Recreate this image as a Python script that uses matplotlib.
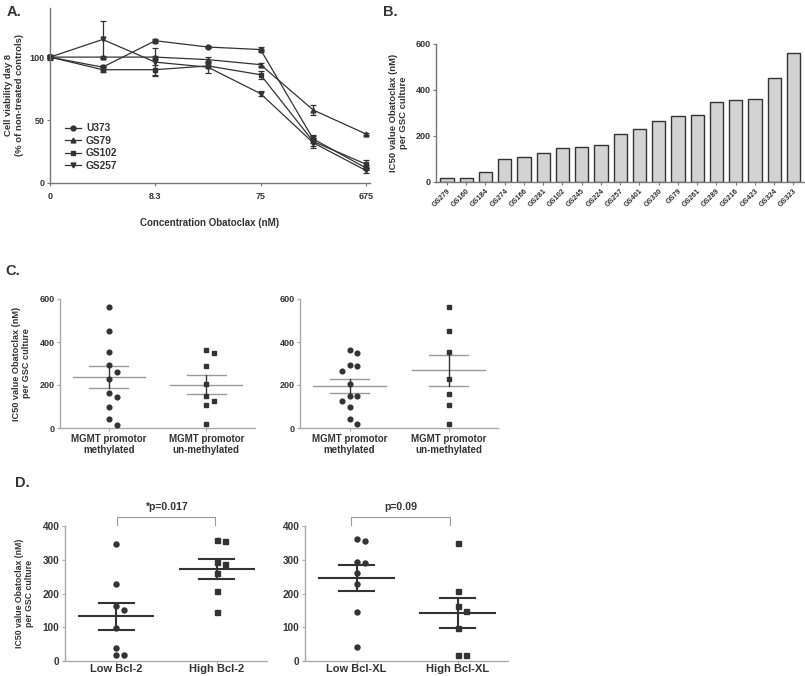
import matplotlib.pyplot as plt
import numpy as np

plt.rcParams['font.family'] = ['Liberation Sans', 'DejaVu Sans']
plt.rcParams['font.weight'] = 'bold'
plt.rcParams['axes.labelweight'] = 'bold'
plt.rcParams['text.color'] = '#333333'
plt.rcParams['axes.labelcolor'] = '#333333'
plt.rcParams['xtick.color'] = '#333333'
plt.rcParams['ytick.color'] = '#333333'

# ---- A: viability curves ----
conc_labels = ['0', '8.3', '75', '675']          # labelled ticks (every second dose)
n_doses = 7
lines_names = ['U373', 'GS79', 'GS102', 'GS257']
lines_markers = ['o', '^', 's', 'v']
u373 = [100, 92, 113, 108, 106, 35, 12]
u373_err = [1, 2, 1.5, 1, 2, 3, 2]
gs79 = [100, 100, 100, 98, 94, 58, 39]
gs79_err = [1, 1, 1, 2, 1, 4, 1]
gs102 = [100, 90, 90, 93, 86, 33, 15]
gs102_err = [2, 2, 4, 2, 3, 4, 3]
gs257 = [100, 114, 96, 92, 71, 32, 10]
gs257_err = [1, 15, 11, 5, 2, 4, 2]

# ---- B: IC50 per culture ----
cultures = ['GS279', 'GS160', 'GS184', 'GS274', 'GS166', 'GS281', 'GS102', 'GS245',
            'GS224', 'GS257', 'GS401', 'GS330', 'GS79', 'GS261', 'GS289', 'GS216',
            'GS423', 'GS324', 'GS323']
ic50 = [17, 17, 42, 98, 110, 127, 146, 152, 163, 208, 231, 264, 289, 293, 348,
        358, 361, 453, 563]

# ---- C: MGMT promotor status ----
mgmt_labels = ['MGMT promotor\nmethylated', 'MGMT promotor\nun-methylated']
c1_meth = [564, 453, 355, 293, 260, 228, 161, 146, 96, 40, 16]
c1_unmeth = [361, 350, 288, 206, 149, 127, 107, 17]
c2_meth = [361, 350, 293, 288, 265, 206, 150, 148, 127, 96, 40, 17]
c2_unmeth = [562, 449, 355, 226, 160, 106, 17]

# ---- D: Bcl-2 / Bcl-XL expression ----
bcl2_labels = ['Low Bcl-2', 'High Bcl-2']
bcl2_low = [346, 228, 163, 150, 97, 40, 17, 17]
bcl2_high = [359, 356, 293, 287, 262, 206, 144]
bcl2_p = '*p=0.017'
bclxl_labels = ['Low Bcl-XL', 'High Bcl-XL']
bclxl_low = [361, 357, 293, 290, 262, 229, 145, 41]
bclxl_high = [349, 207, 162, 149, 97, 17, 17]
bclxl_p = 'p=0.09'

DARK = '#333333'
GREY = '#9a9a9a'
W, H = 805, 676
YLAB = 'IC50 value Obatoclax (nM)\nper GSC culture'


def rect(x0, y0, x1, y1):
    # pixel box of the reference -> figure fraction
    return [x0 / W, 1 - y1 / H, (x1 - x0) / W, (y1 - y0) / H]


def clean(ax, spine_col, size):
    for s in ['top', 'right']:
        ax.spines[s].set_visible(False)
    for s in ['left', 'bottom']:
        ax.spines[s].set_color(spine_col)
        ax.spines[s].set_linewidth(1.0)
    ax.tick_params(length=2.5, width=0.8, color=spine_col, labelsize=size, pad=1.5)


def swarm(vals, tol, step):
    vals = np.asarray(vals, float)
    xs = np.zeros(len(vals))
    placed = []
    for i in np.argsort(-vals, kind='stable'):
        for dx in [0, step, -step, 2 * step, -2 * step]:
            if all(abs(vals[i] - py) >= tol or abs(dx - px) > step * 0.5 for py, px in placed):
                break
        xs[i] = dx
        placed.append((vals[i], dx))
    return xs


def scatter_panel(ax, groups, markers, tol, step, ms, mean_col, lw, mean_w, cap_w):
    for k, (vals, m) in enumerate(zip(groups, markers)):
        vals = np.asarray(vals, float)
        ax.plot(k + swarm(vals, tol, step), vals, m, color=DARK, ms=ms,
                clip_on=False, zorder=3)
        mean = vals.mean()
        sem = vals.std(ddof=1) / np.sqrt(len(vals))
        ax.plot([k - mean_w, k + mean_w], [mean, mean], color=mean_col, lw=lw, zorder=2)
        for y in (mean - sem, mean + sem):
            ax.plot([k - cap_w, k + cap_w], [y, y], color=mean_col, lw=lw, zorder=2)
        ax.plot([k, k], [mean - sem, mean + sem], color=DARK, lw=lw, zorder=2)


fig = plt.figure(figsize=(8.05, 6.76), dpi=100)

# Panel A
axA = fig.add_axes(rect(50, 8, 370, 183))
xpos = np.arange(n_doses) / 2
handles = []
for name, m, v, e in zip(lines_names, lines_markers,
                         [u373, gs79, gs102, gs257],
                         [u373_err, gs79_err, gs102_err, gs257_err]):
    c = axA.errorbar(xpos, v, yerr=e, marker=m, color=DARK, ms=3.5, lw=0.9,
                     elinewidth=0.9, capsize=2.5, capthick=0.9, label=name, clip_on=False)
    handles.append(c.lines[0])
axA.set_xlim(0, 3.04)
axA.set_ylim(0, 139)
axA.set_xticks(np.arange(len(conc_labels)), conc_labels)
axA.set_yticks([0, 50, 100])
clean(axA, '#777777', 6.5)
axA.tick_params(axis='x', pad=4)
axA.set_xlabel('Concentration Obatoclax (nM)', fontsize=7, labelpad=12)
axA.set_ylabel('Cell viability day 8\n(% of non-treated controls)', fontsize=6.8, labelpad=4)
axA.legend(handles, lines_names, loc='upper left', bbox_to_anchor=(0.03, 0.37),
           frameon=False, fontsize=7.3, handlelength=1.6, handletextpad=0.5,
           labelspacing=0.25, borderpad=0)

# Panel B
axB = fig.add_axes(rect(436, 44, 805, 182))
axB.bar(np.arange(len(cultures)), ic50, width=0.69, color='#d3d3d3',
        edgecolor=DARK, linewidth=1.0)
axB.set_xlim(-0.57, len(cultures) - 0.4)
axB.set_ylim(0, 600)
axB.set_yticks([0, 200, 400, 600])
axB.set_xticks(np.arange(len(cultures)))
axB.set_xticklabels(cultures, rotation=45, ha='right', rotation_mode='anchor')
clean(axB, '#777777', 6.5)
axB.tick_params(axis='x', labelsize=5.2)
axB.set_ylabel(YLAB, fontsize=6.8, labelpad=5)

# Panel C
for x0, x1, groups, show_label in [(60, 255, [c1_meth, c1_unmeth], True),
                                   (300, 498, [c2_meth, c2_unmeth], False)]:
    ax = fig.add_axes(rect(x0, 299, x1, 428))
    scatter_panel(ax, groups, ['o', 's'], tol=36, step=0.08, ms=3.4,
                  mean_col=GREY, lw=1.0, mean_w=0.37, cap_w=0.2)
    ax.set_xlim(-0.5, 1.5)
    ax.set_ylim(0, 600)
    ax.set_yticks([0, 200, 400, 600])
    ax.set_xticks([0, 1], mgmt_labels)
    clean(ax, '#aaaaaa', 6.5)
    ax.tick_params(axis='x', labelsize=7)
    if show_label:
        ax.set_ylabel(YLAB, fontsize=6.6, labelpad=6)

# Panel D
for x0, x1, groups, labels, ptxt, bx, show_label in [
        (65, 267, [bcl2_low, bcl2_high], bcl2_labels, bcl2_p, (0.01, 0.98), True),
        (305, 508, [bclxl_low, bclxl_high], bclxl_labels, bclxl_p, (-0.05, 0.93), False)]:
    ax = fig.add_axes(rect(x0, 526, x1, 661))
    scatter_panel(ax, groups, ['o', 's'], tol=20, step=0.08, ms=3.6,
                  mean_col=DARK, lw=1.5, mean_w=0.37, cap_w=0.175)
    ax.set_xlim(-0.51, 1.5)
    ax.set_ylim(0, 400)
    ax.set_yticks([0, 100, 200, 300, 400])
    ax.set_xticks([0, 1], labels)
    clean(ax, '#aaaaaa', 7.2)
    ax.tick_params(axis='x', labelsize=8, length=2, pad=0.5)
    ax.plot([bx[0], bx[0], bx[1], bx[1]], [404, 428, 428, 404], color=GREY, lw=0.8,
            clip_on=False)
    ax.text(sum(bx) / 2, 440, ptxt, ha='center', va='bottom', fontsize=7.6)
    if show_label:
        ax.set_ylabel(YLAB, fontsize=6.3, labelpad=6)

# panel letters
for txt, x, y in [('A.', 7, 12), ('B.', 383, 12), ('C.', 5, 271), ('D.', 15, 483)]:
    fig.text(x / W, 1 - y / H, txt, fontsize=10.5, va='center', ha='left')

fig.savefig('out.png', dpi=100)
